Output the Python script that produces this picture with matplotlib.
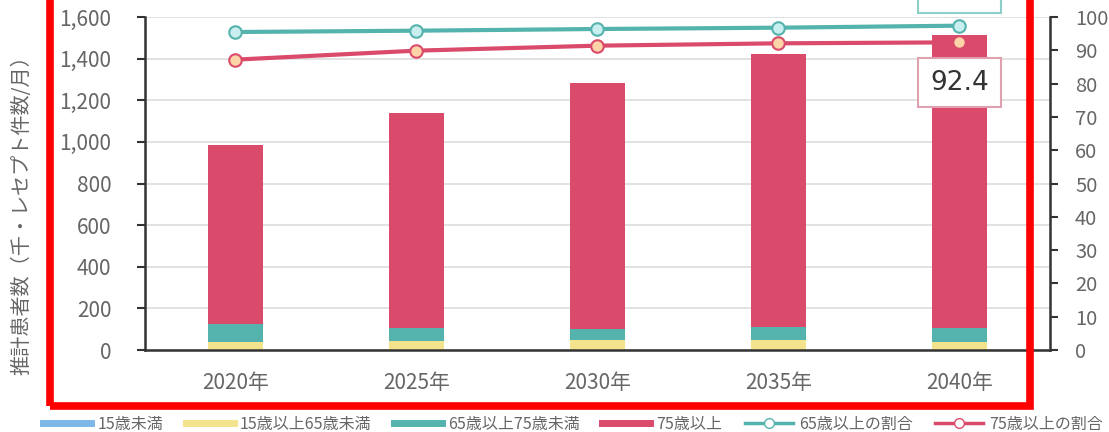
import matplotlib
matplotlib.use('Agg')
import matplotlib.pyplot as plt
from matplotlib.lines import Line2D
from matplotlib.patches import Rectangle
import numpy as np

plt.rcParams['font.family'] = ['Noto Sans CJK JP', 'DejaVu Sans']

years = ['2020年', '2025年', '2030年', '2035年', '2040年']
under15 = [2, 2, 2, 2, 2]
age15_65 = [38, 40, 46, 46, 38]
age65_75 = [85, 66, 54, 62, 68]
age75 = [860, 1032, 1182, 1311, 1406]
ratio65 = [95.5, 95.9, 96.4, 96.8, 97.4]
ratio75 = [87.2, 89.9, 91.4, 92.1, 92.4]

c_blue = '#7db8e8'
c_yellow = '#f3e38c'
c_teal = '#55b3ad'
c_red = '#da4a6b'
grey = '#666666'

fig = plt.figure(figsize=(11.09, 4.32), dpi=100)
ax = fig.add_axes([0.1307, 0.1898, 0.8161, 0.7708])
ax2 = ax.twinx()

x = np.arange(len(years))
w = 0.30
b = np.zeros(len(years))
for vals, col in [(under15, c_blue), (age15_65, c_yellow), (age65_75, c_teal), (age75, c_red)]:
    ax.bar(x, vals, w, bottom=b, color=col, zorder=2)
    b = b + np.array(vals)

ax.set_xlim(-0.5, 4.5)
ax.set_ylim(0, 1600)
ax.set_yticks(range(0, 1601, 200))
ax.set_yticklabels([f'{v:,}' for v in range(0, 1601, 200)])
ax.set_xticks(x)
ax.set_xticklabels(years)
ax.grid(axis='y', color='#dddddd', linewidth=1.2, zorder=0)
ax.set_axisbelow(True)
ax.tick_params(axis='y', colors='#333333', labelcolor=grey, labelsize=15, length=6, width=1.5, pad=18)
ax.tick_params(axis='x', length=0, labelcolor=grey, labelsize=15, pad=16)
ax.set_ylabel('推計患者数（千・レセプト件数/月）', color=grey, fontsize=14.5)
ax.yaxis.set_label_coords(-0.124, 0.42)
for s in ['top', 'right']:
    ax.spines[s].set_visible(False)
ax.spines['left'].set_color('#333333')
ax.spines['left'].set_linewidth(1.8)
ax.spines['bottom'].set_color('#333333')
ax.spines['bottom'].set_linewidth(1.8)

ax2.plot(x, ratio65, color=c_teal, lw=3, marker='o', ms=9, mfc='#c9eef0', mec=c_teal, mew=1.5, zorder=4)
ax2.plot(x, ratio75, color=c_red, lw=3, marker='o', ms=9, mfc='#fdd3a8', mec=c_red, mew=1.5, zorder=4)
ax2.set_ylim(0, 100)
ax2.set_yticks(range(0, 101, 10))
ax2.tick_params(axis='y', colors='#333333', labelcolor=grey, labelsize=14.5, length=6, width=1.5, pad=12)
for s in ['top', 'left', 'bottom']:
    ax2.spines[s].set_visible(False)
ax2.spines['right'].set_color('#333333')
ax2.spines['right'].set_linewidth(1.8)

ax2.annotate(f'{ratio75[-1]}', (x[-1], ratio75[-1]), xytext=(0, -29), textcoords='offset points',
             ha='center', va='center', fontsize=19, color='#333333', family='DejaVu Sans',
             bbox=dict(boxstyle='square,pad=0.45', fc='white', ec='#e0a0b0', lw=1.5), zorder=6)
ax2.annotate(f'{ratio65[-1]}', (x[-1], ratio65[-1]), xytext=(0, 27), textcoords='offset points',
             ha='center', va='center', fontsize=19, color='#333333', family='DejaVu Sans',
             bbox=dict(boxstyle='square,pad=0.45', fc='white', ec='#8ccfc8', lw=1.5),
             annotation_clip=False, zorder=6)

handles = [
    Line2D([], [], color=c_blue, lw=5),
    Line2D([], [], color=c_yellow, lw=5),
    Line2D([], [], color=c_teal, lw=5),
    Line2D([], [], color=c_red, lw=5),
    Line2D([], [], color=c_teal, lw=2.5, marker='o', ms=7, mfc='white', mec=c_teal),
    Line2D([], [], color=c_red, lw=2.5, marker='o', ms=7, mfc='white', mec=c_red),
]
labels = ['15歳未満', '15歳以上65歳未満', '65歳以上75歳未満', '75歳以上', '65歳以上の割合', '75歳以上の割合']
leg = fig.legend(handles, labels, loc='center left', bbox_to_anchor=(0.026, 0.018), ncol=6,
                 frameon=False, fontsize=11.5, handlelength=3.0, handletextpad=0.4,
                 columnspacing=1.4, labelcolor=grey)

fig.add_artist(Rectangle((49.5 / 1109, 1 - 406 / 432), (1030 - 49.5) / 1109, 0.1 + 406 / 432,
                         transform=fig.transFigure, fill=False, ec='#ff0000', lw=5.5,
                         clip_on=False, zorder=10))

fig.savefig('out.png', dpi=100)
